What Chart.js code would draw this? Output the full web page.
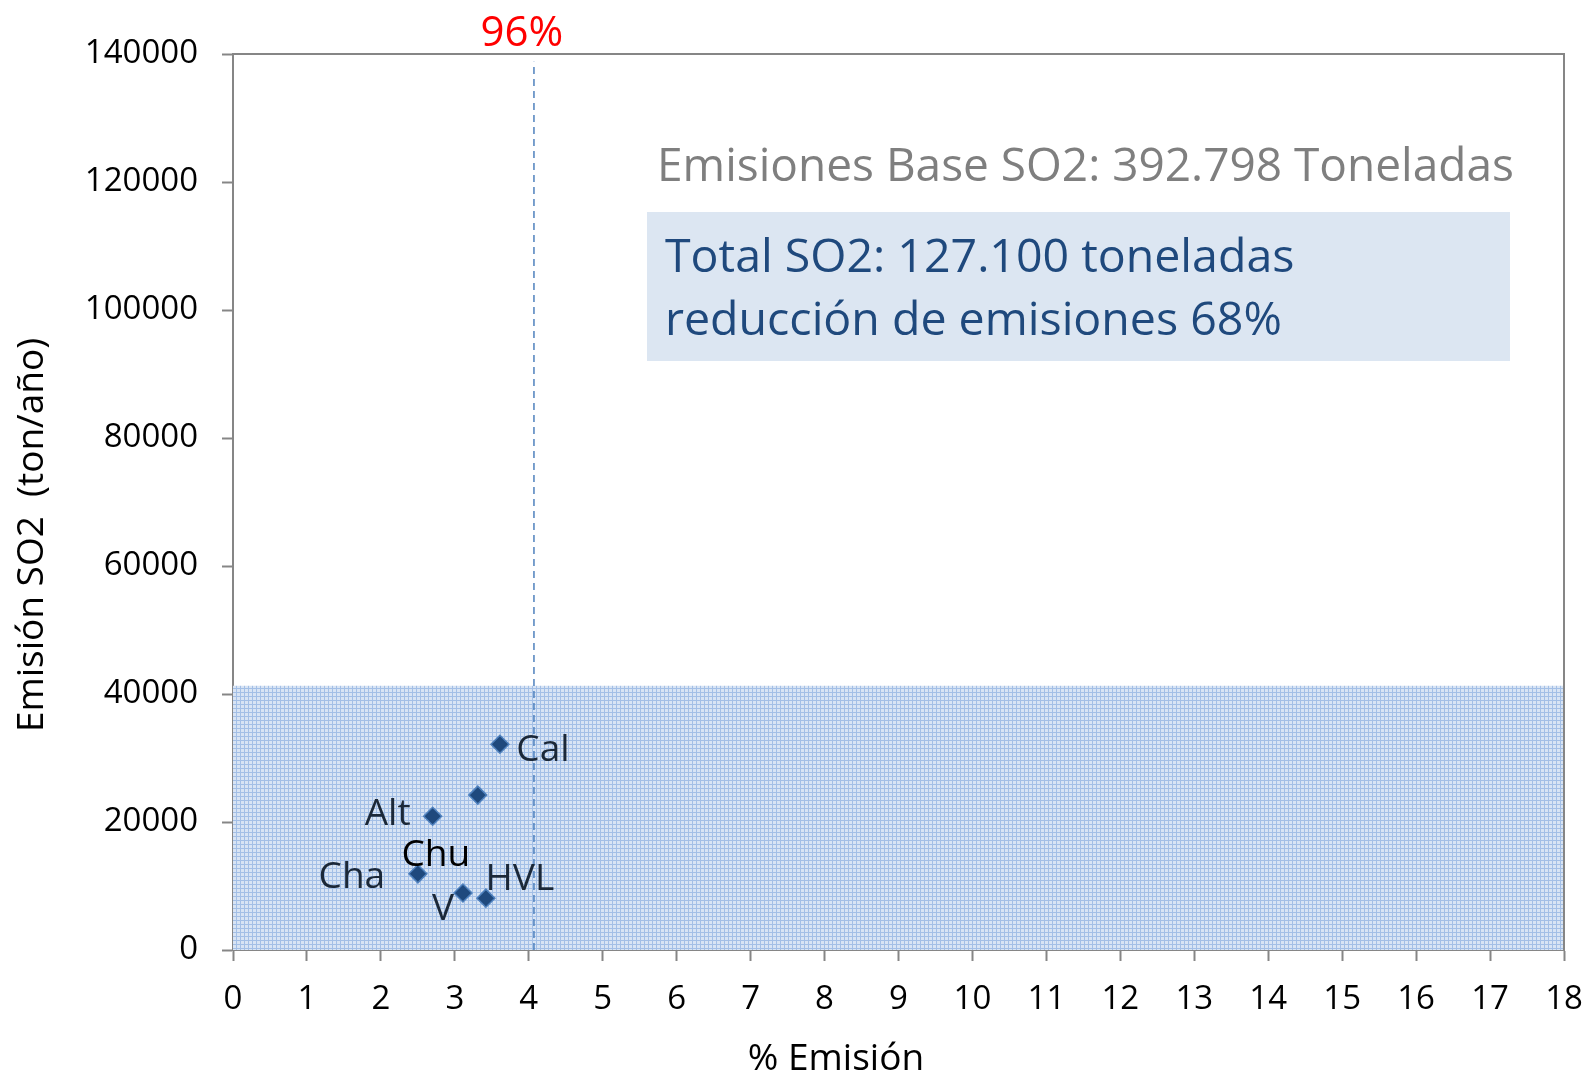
<!DOCTYPE html>
<html>
<head>
<meta charset="utf-8">
<script src="https://cdn.jsdelivr.net/npm/chart.js@4.4.1/dist/chart.umd.min.js"></script>
<style>
  html, body { margin: 0; padding: 0; background: #fff; }
  #wrap { width: 1589px; height: 1076px; }
</style>
</head>
<body>
<div id="wrap"><canvas id="js--chart-so2"></canvas></div>
<script>
// plants, % of emission and SO2 emission (ton/year)
const plantNames = ["Cal", "Chu", "Alt", "Cha", "V", "HVL"];
const pctEmision = [3.61, 3.31, 2.70, 2.50, 3.11, 3.42];
const so2Emision = [32150, 24200, 20900, 11900, 8900, 8100];

// cut-off line (96%) and shaded band limit
const cutPct = 4.07;
const bandTop = 41300;

const xTicks = [0, 1, 2, 3, 4, 5, 6, 7, 8, 9, 10, 11, 12, 13, 14, 15, 16, 17, 18];
const yTicks = [0, 20000, 40000, 60000, 80000, 100000, 120000, 140000];

const FONT = "'Open Sans', 'Noto Sans', sans-serif";
const AXIS_GRAY = '#868686';

// label placement (pixel offsets from the point)
const labelOffsets = {
    Cal: [43, 6], Chu: [-42, 60], Alt: [-45, -2],
    Cha: [-66, 4], V: [-20, 16], HVL: [34, -19]
};

// small grid pattern like the excel fill
function makePattern() {
    const c = document.createElement('canvas');
    c.width = 4; c.height = 4;
    const g = c.getContext('2d');
    g.fillStyle = '#d8e4f4';
    g.fillRect(0, 0, 4, 4);
    g.fillStyle = '#a3bfe6';
    g.fillRect(0, 0, 4, 1);
    g.fillRect(0, 0, 1, 4);
    return g.createPattern(c, 'repeat');
}

const points = plantNames.map(function (n, i) {
    return { x: pctEmision[i], y: so2Emision[i], name: n };
});

const annotations = {
    id: 'annotations',
    afterDatasetsDraw: function (chart) {
        const ctx = chart.ctx;
        const xs = chart.scales.x;
        const area = chart.chartArea;
        ctx.save();

        // frame top + right
        ctx.strokeStyle = AXIS_GRAY;
        ctx.lineWidth = 2;
        ctx.beginPath();
        ctx.moveTo(area.left, area.top);
        ctx.lineTo(area.right, area.top);
        ctx.lineTo(area.right, area.bottom);
        ctx.stroke();

        // point labels
        const meta = chart.getDatasetMeta(2);
        ctx.textAlign = 'center';
        ctx.textBaseline = 'middle';
        meta.data.forEach(function (el, i) {
            const name = plantNames[i];
            const off = labelOffsets[name];
            ctx.font = '37px ' + FONT;
            ctx.fillStyle = name === 'Chu' ? '#000000' : '#1b2838';
            ctx.fillText(name, el.x + off[0], el.y + off[1]);
        });

        // axis titles (excel places them off-centre)
        ctx.font = '37px ' + FONT;
        ctx.fillStyle = '#000';
        ctx.fillText('% Emisión', 836, 1059);
        ctx.save();
        ctx.translate(32, 535);
        ctx.rotate(-Math.PI / 2);
        ctx.fillText('Emisión SO2  (ton/año)', 0, 0);
        ctx.restore();

        // 96% label above cut line
        ctx.font = '42px ' + FONT;
        ctx.fillStyle = '#ff0000';
        ctx.textBaseline = 'alphabetic';
        ctx.fillText('96%', xs.getPixelForValue(cutPct) - 12, 46);

        // base emissions text
        ctx.textAlign = 'left';
        ctx.font = '46px ' + FONT;
        ctx.fillStyle = '#7f7f7f';
        ctx.fillText('Emisiones Base SO2: 392.798 Toneladas', 657, 181);

        // blue box
        ctx.fillStyle = '#dce6f2';
        ctx.fillRect(647, 212, 863, 149);
        ctx.font = '46.5px ' + FONT;
        ctx.fillStyle = '#1f497d';
        ctx.fillText('Total SO2: 127.100 toneladas', 665, 272);
        ctx.fillText('reducción de emisiones 68%', 665, 335);

        ctx.restore();
    }
};

const config = {
    type: 'scatter',
    data: {
        datasets: [
            {
                label: 'band',
                data: [{ x: 0, y: bandTop }, { x: 18, y: bandTop }],
                showLine: true,
                borderWidth: 0,
                pointRadius: 0,
                fill: 'origin',
                backgroundColor: makePattern(),
                order: 3
            },
            {
                label: 'cut',
                data: [{ x: cutPct, y: 0 }, { x: cutPct, y: 138800 }],
                showLine: true,
                borderColor: '#4f81bd',
                borderWidth: 1.5,
                borderDash: [7, 5],
                pointRadius: 0,
                order: 2
            },
            {
                label: 'plants',
                data: points,
                pointStyle: 'rectRot',
                pointRadius: 9,
                backgroundColor: '#1f497d',
                borderColor: '#4f81bd',
                borderWidth: 1.5,
                order: 1
            }
        ]
    },
    options: {
        responsive: true,
        maintainAspectRatio: false,
        animation: false,
        layout: { padding: { top: 54, right: 25, left: 0, bottom: 0 } },
        plugins: {
            legend: { display: false },
            tooltip: { enabled: false }
        },
        scales: {
            x: {
                type: 'linear',
                min: 0,
                max: 18,
                afterBuildTicks: function (axis) {
                    axis.ticks = xTicks.map(function (v) { return { value: v }; });
                },
                grid: {
                    drawOnChartArea: false,
                    drawTicks: true,
                    tickLength: 11,
                    tickColor: AXIS_GRAY,
                    tickWidth: 2
                },
                border: { color: AXIS_GRAY, width: 2 },
                ticks: {
                    color: '#000',
                    font: { family: FONT, size: 33 },
                    padding: 19,
                    maxRotation: 0,
                    autoSkip: false
                },
                afterFit: function (axis) {
                    axis.height = 126;
                    axis.paddingRight = 0;
                    axis.paddingLeft = 0;
                }
            },
            y: {
                type: 'linear',
                min: 0,
                max: 140000,
                afterBuildTicks: function (axis) {
                    axis.ticks = yTicks.map(function (v) { return { value: v }; });
                },
                grid: {
                    drawOnChartArea: false,
                    drawTicks: true,
                    tickLength: 11,
                    tickColor: AXIS_GRAY,
                    tickWidth: 2
                },
                border: { color: AXIS_GRAY, width: 2 },
                ticks: {
                    color: '#000',
                    font: { family: FONT, size: 33 },
                    padding: 24,
                    callback: function (v) { return String(v); }
                },
                afterFit: function (axis) {
                    axis.width = 233;
                    axis.paddingTop = 0;
                    axis.paddingBottom = 0;
                }
            }
        }
    },
    plugins: [annotations]
};

new Chart(document.getElementById('js--chart-so2'), config);
</script>
</body>
</html>
